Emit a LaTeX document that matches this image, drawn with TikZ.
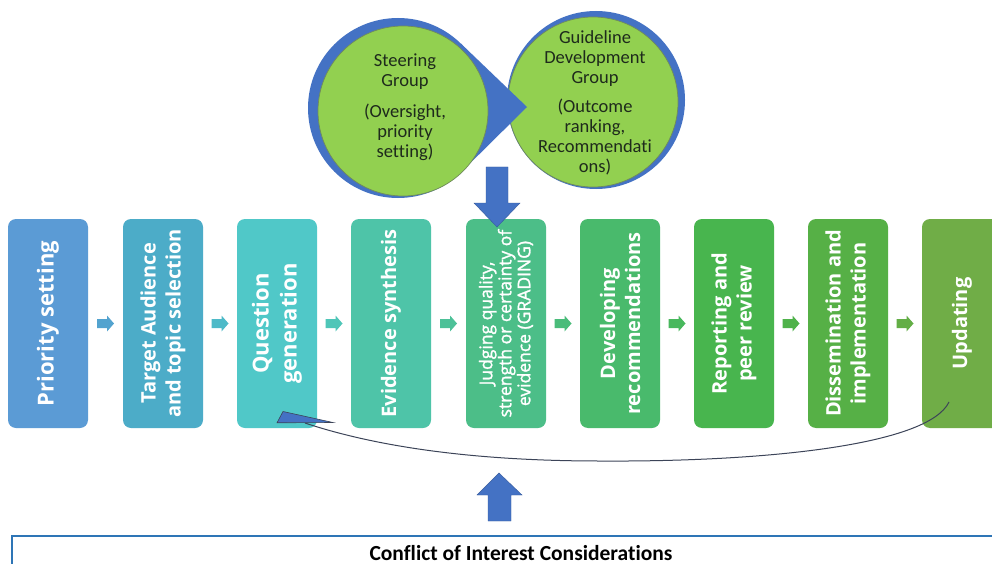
\documentclass[tikz,border=0pt]{standalone}
\usepackage{fontspec}
\setmainfont{Open Sans}
\newfontfamily\calfont[Ligatures=NoCommon]{Carlito}
\newfontfamily\judgefont[FakeBold=1.5]{Open Sans}
\usetikzlibrary{calc}

% stage colours, blue to green
\definecolor{s1}{RGB}{91,155,213}
\definecolor{s2}{RGB}{76,172,200}
\definecolor{s3}{RGB}{80,200,200}
\definecolor{s4}{RGB}{78,196,168}
\definecolor{s5}{RGB}{76,190,136}
\definecolor{s6}{RGB}{73,186,108}
\definecolor{s7}{RGB}{72,181,78}
\definecolor{s8}{RGB}{86,176,70}
\definecolor{s9}{RGB}{112,173,71}
\colorlet{a1}{s1!50!s2}
\colorlet{a2}{s2!50!s3}
\colorlet{a3}{s3!50!s4}
\colorlet{a4}{s4!50!s5}
\colorlet{a5}{s5!50!s6}
\colorlet{a6}{s6!50!s7}
\colorlet{a7}{s7!50!s8}
\colorlet{a8}{s8!50!s9}
\definecolor{grpblue}{RGB}{68,114,196}
\definecolor{grpgreen}{RGB}{146,208,80}
\definecolor{grpedge}{RGB}{112,140,90}
\definecolor{grptext}{RGB}{30,42,28}
\definecolor{coiblue}{RGB}{46,117,182}
\definecolor{loopline}{RGB}{60,68,88}

\begin{document}
\begin{tikzpicture}[x=1pt,y=-1pt,
  stage/.style={rotate=90, rounded corners=8pt, minimum width=209pt,
    minimum height=80pt, inner sep=0pt, text=white, align=center,
    font=\bfseries\fontsize{20}{25}\selectfont},
  stagebig/.style={font=\bfseries\fontsize{22}{28}\selectfont},
  stagesmall/.style={font=\judgefont\fontsize{17.5}{19}\selectfont},
  groupring/.style={circle, fill=grpblue, inner sep=0pt},
  groupdisc/.style={circle, fill=grpgreen, draw=grpedge, line width=0.7pt, inner sep=0pt},
  grouptext/.style={align=center, text=grptext,
    font=\calfont\fontsize{18.5}{20}\selectfont},
  blockarrow/.style={fill=grpblue, draw=grpblue!80!black, line width=0.4pt},
  loop/.style={draw=loopline, line width=1pt}]

\useasboundingbox (0,0) rectangle (992,564);
\clip (0,0) rectangle (992,564);
\fill[white] (0,0) rectangle (992,564);

% ---- the two groups ----
\node[groupring, minimum size=178pt] (gdgring) at (596,100) {};
\node[groupdisc, minimum size=170pt] (gdg) at (593,102) {};
\node[grouptext] (gdgtext) at (595,103)
  {Guideline\\Development\\Group\\[9pt](Outcome\\ranking,\\Recommendati\\ons)};

\node[groupring, minimum size=180pt] (sgring) at (398,108) {};
\coordinate (sgtip) at (527,107);
\fill[grpblue] (sgtip) -- (460.8,43.5) -- (sgring.center) -- (460.8,172.5) -- cycle;
\node[groupdisc, minimum size=170pt] (sg) at (403,111) {};
\node[grouptext] (sgtext) at (405,107)
  {Steering\\Group\\[11pt](Oversight,\\priority\\setting)};

% ---- process stages ----
\node[stage, stagebig, fill=s1] (b1) at (48,323.5)  {Priority setting};
\node[stage, fill=s2] (b2) at (163,323.5) {Target Audience\\and topic selection};
\node[stage, stagebig, fill=s3] (b3) at (277,323.5) {Question\\generation};
\node[stage, fill=s4] (b4) at (391,323.5) {Evidence synthesis};
\node[stage, fill=s5, stagesmall] (b5) at (506,323.5)
  {Judging quality,\\strength or certainty of\\evidence (GRADING)};
\node[stage, fill=s6] (b6) at (620,323.5) {Developing\\recommendations};
\node[stage, fill=s7] (b7) at (734,323.5) {Reporting and\\peer review};
\node[stage, fill=s8] (b8) at (848,323.5) {Dissemination and\\implementation};
\node[stage, fill=s9] (b9) at (962,323.5) {Updating};

% small block arrows between consecutive stages
\foreach \p/\q/\c in {b1/b2/a1, b2/b3/a2, b3/b4/a3, b4/b5/a4,
                      b5/b6/a5, b6/b7/a6, b7/b8/a7, b8/b9/a8} {
  \coordinate (mid) at ($(\p.center)!.5!(\q.center)$);
  \fill[\c] (mid) ++(-8.5,-4.5) -- ++(10,0) -- ++(0,-3.5) -- ++(7,8)
    -- ++(-7,8) -- ++(0,-3.5) -- ++(-10,0) -- cycle;
}

% groups feed into the grading stage
\coordinate (dtip) at ($(b5.center)+(-9,-96.5)$);
\path[blockarrow] (dtip) -- ++(-23,-24) -- ++(12,0) -- ++(0,-36) -- ++(22,0)
  -- ++(0,36) -- ++(12,0) -- cycle;

% updating loops back to question generation
\coordinate (loopstart) at (949,402);
\coordinate (loopend) at (305,423);
\draw[loop] (loopstart) .. controls (928,446) and (760,462) .. (600,461)
  .. controls (480,461) and (380,448) .. (loopend);
\path[blockarrow, draw=loopline, line width=0.6pt]
  (283,411.5) -- (277,422.8) -- (333,422.5) -- cycle;

% ---- conflict of interest ----
\node[draw=coiblue, line width=2pt, minimum width=1000pt, minimum height=60pt,
  anchor=north west, inner sep=0pt] (coi) at (11,535) {};
\node[font=\calfont\bfseries\fontsize{21.5}{24}\selectfont, text=black]
  (coitext) at (521,553) {Conflict of Interest Considerations};
\coordinate (utip) at (499,473);
\path[blockarrow] (utip) -- ++(-22,22) -- ++(11,0) -- ++(0,26) -- ++(23,0)
  -- ++(0,-26) -- ++(11,0) -- cycle;

\end{tikzpicture}
\end{document}
